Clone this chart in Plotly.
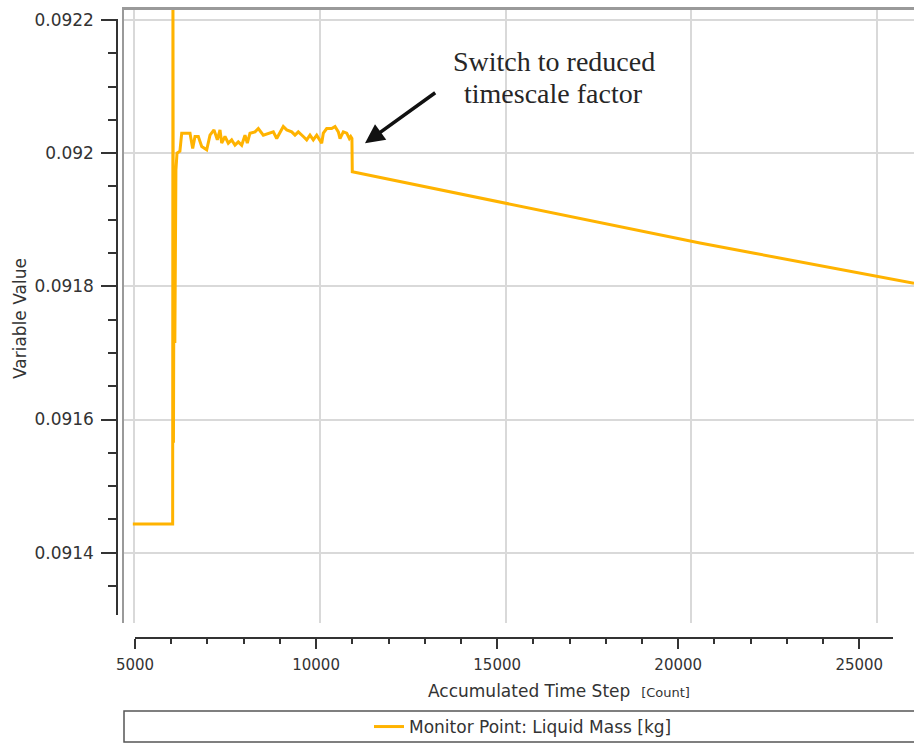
import plotly.graph_objects as go

# Monitor point history: accumulated time step vs liquid mass
steps = [4940, 6040, 6048, 6062, 6080, 6100, 6130, 6160, 6240, 6290,
         6519, 6593, 6657, 6748, 6842, 6980, 7071, 7181, 7273, 7347,
         7394, 7485, 7576, 7670, 7761, 7852, 7946, 8037, 8101, 8175,
         8314, 8405, 8543, 8681, 8819, 8913, 9004, 9095, 9189, 9327,
         9418, 9509, 9647, 9741, 9832, 9923, 10017, 10155, 10200, 10293,
         10431, 10523, 10614, 10661, 10752, 10846, 10918, 10956, 10990, 11000,
         20600, 26510]
liquid_mass = [0.091443, 0.091443, 0.092260, 0.091565, 0.091940, 0.091715, 0.091975, 0.092000, 0.092003, 0.092030,
               0.092030, 0.092007, 0.092025, 0.092025, 0.092010, 0.092005, 0.092027, 0.092035, 0.092020, 0.092035,
               0.092015, 0.092025, 0.092015, 0.092020, 0.092012, 0.092017, 0.092012, 0.092027, 0.092015, 0.092030,
               0.092032, 0.092037, 0.092027, 0.092030, 0.092032, 0.092022, 0.092032, 0.092040, 0.092035, 0.092032,
               0.092027, 0.092032, 0.092025, 0.092020, 0.092027, 0.092020, 0.092027, 0.092015, 0.092030, 0.092037,
               0.092037, 0.092040, 0.092032, 0.092022, 0.092032, 0.092030, 0.092022, 0.092025, 0.092022, 0.091972,
               0.091865, 0.0918046]

series_name = "Monitor Point: Liquid Mass [kg]"
x_title = "Accumulated Time Step"
x_unit = "[Count]"
y_title = "Variable Value"
note_lines = ["Switch to reduced", "timescale factor"]

W, H = 914, 743
FONT = "DejaVu Sans"
AXIS_COL = "#333333"
GRID_COL = "#d9d9d9"
BOX_COL = "#9a9a9a"


def px(xp):
    return xp / W


def py(yp):
    return 1 - yp / H


fig = go.Figure()
fig.add_trace(go.Scatter(
    x=steps, y=liquid_mass, mode="lines", name=series_name,
    line=dict(color="#FFB300", width=3), xaxis="x", yaxis="y",
    hoverinfo="x+y",
))

# transparent copies of the series so that the grid/box axis and the
# separately placed labelled axes are built and drawn
for xa, ya in [("x2", "y"), ("x3", "y3"), ("x4", "y4")]:
    fig.add_trace(go.Scatter(
        x=steps, y=liquid_mass, mode="lines", opacity=0, showlegend=False,
        hoverinfo="skip", line=dict(width=1, color="#FFB300"),
        xaxis=xa, yaxis=ya,
    ))

fig.update_layout(
    width=W, height=H, autosize=False,
    margin=dict(l=0, r=0, t=0, b=0, pad=0, autoexpand=False),
    paper_bgcolor="white", plot_bgcolor="rgba(0,0,0,0)",
    font=dict(family=FONT, size=15, color=AXIS_COL),
    showlegend=True,
    # data axes (plot box)
    xaxis=dict(domain=[px(124), 1], range=[4696.3, 26510],
               showgrid=False, showline=False, showticklabels=False,
               ticks="", zeroline=False),
    yaxis=dict(domain=[py(623), py(10)], range=[0.0912944, 0.092215],
               tick0=0.0914, dtick=0.0002, showgrid=True, gridcolor=GRID_COL,
               gridwidth=2, showticklabels=False, ticks="", zeroline=False,
               showline=True, linecolor=BOX_COL, linewidth=2),
    # vertical grid and top border of the plot box
    xaxis2=dict(overlaying="x", anchor="y", side="top", range=[4722.6, 25996],
                tick0=5000, dtick=5000, showgrid=True, gridcolor=GRID_COL,
                gridwidth=2, showticklabels=False, ticks="", zeroline=False,
                showline=True, linecolor=BOX_COL, linewidth=3),
    # labelled x axis
    xaxis3=dict(domain=[px(135), px(893.3)], anchor="y3", range=[5000, 25939],
                tick0=0, dtick=5000, ticks="outside", ticklen=10, tickwidth=2,
                tickcolor=AXIS_COL, showline=True, linecolor=AXIS_COL,
                linewidth=2, showgrid=False, zeroline=False, tickformat="d",
                tickfont=dict(family=FONT, size=15, color=AXIS_COL),
                ticklabelstandoff=3,
                minor=dict(dtick=1000, ticks="outside", ticklen=5, tickwidth=2,
                           tickcolor=AXIS_COL, showgrid=False)),
    yaxis3=dict(domain=[py(636.7), py(630)], anchor="x3", range=[0, 1],
                showgrid=False, showline=False, showticklabels=False,
                ticks="", zeroline=False),
    # labelled y axis
    xaxis4=dict(domain=[px(118.3), px(120)], anchor="y4", range=[0, 1],
                showgrid=False, showline=False, showticklabels=False,
                ticks="", zeroline=False),
    yaxis4=dict(domain=[py(615), py(19)], anchor="x4",
                range=[0.0913064, 0.0922015], tick0=0.0914, dtick=0.0002,
                tickformat=".4~f", ticks="outside", ticklen=15, tickwidth=2,
                tickcolor=AXIS_COL, showline=True, linecolor=AXIS_COL,
                linewidth=2, showgrid=False, zeroline=False,
                tickfont=dict(family=FONT, size=17, color=AXIS_COL),
                ticklabelstandoff=4,
                minor=dict(dtick=0.00005, ticks="outside", ticklen=8,
                           tickwidth=2, tickcolor=AXIS_COL, showgrid=False)),
    legend=dict(orientation="h", x=px(369), y=py(727), xanchor="left",
                yanchor="middle", bgcolor="rgba(0,0,0,0)", borderwidth=0,
                font=dict(family=FONT, size=17, color=AXIS_COL)),
)

# legend frame
fig.add_shape(type="rect", xref="paper", yref="paper",
              x0=px(124), x1=1.01, y0=py(742), y1=py(711),
              line=dict(color="#555555", width=1.5), fillcolor="rgba(0,0,0,0)",
              layer="below")

# axis titles
fig.add_annotation(text=y_title, xref="paper", yref="paper", x=px(20), y=py(319),
                   textangle=-90, showarrow=False, xanchor="center", yanchor="middle",
                   font=dict(family=FONT, size=17, color=AXIS_COL))
fig.add_annotation(text=f"{x_title}&nbsp;&nbsp;<span style='font-size:13px'>{x_unit}</span>",
                   xref="paper", yref="paper", x=px(559), y=py(691),
                   showarrow=False, xanchor="center", yanchor="middle",
                   font=dict(family=FONT, size=17, color=AXIS_COL))

# callout text and arrow
for line, yc in zip(note_lines, [61.7, 93.3]):
    fig.add_annotation(text=line, xref="paper", yref="paper", x=px(553.5), y=py(yc),
                       showarrow=False, xanchor="center", yanchor="middle",
                       font=dict(family="Liberation Serif", size=28, color="#262626"))
fig.add_annotation(text="", xref="paper", yref="paper", x=px(365), y=py(143.3),
                   ax=71.7, ay=-51.6, axref="pixel", ayref="pixel",
                   showarrow=True, arrowhead=2, arrowsize=1.1, arrowwidth=3.5,
                   arrowcolor="#111111", standoff=0, startstandoff=0)

fig.write_html("out.html")
